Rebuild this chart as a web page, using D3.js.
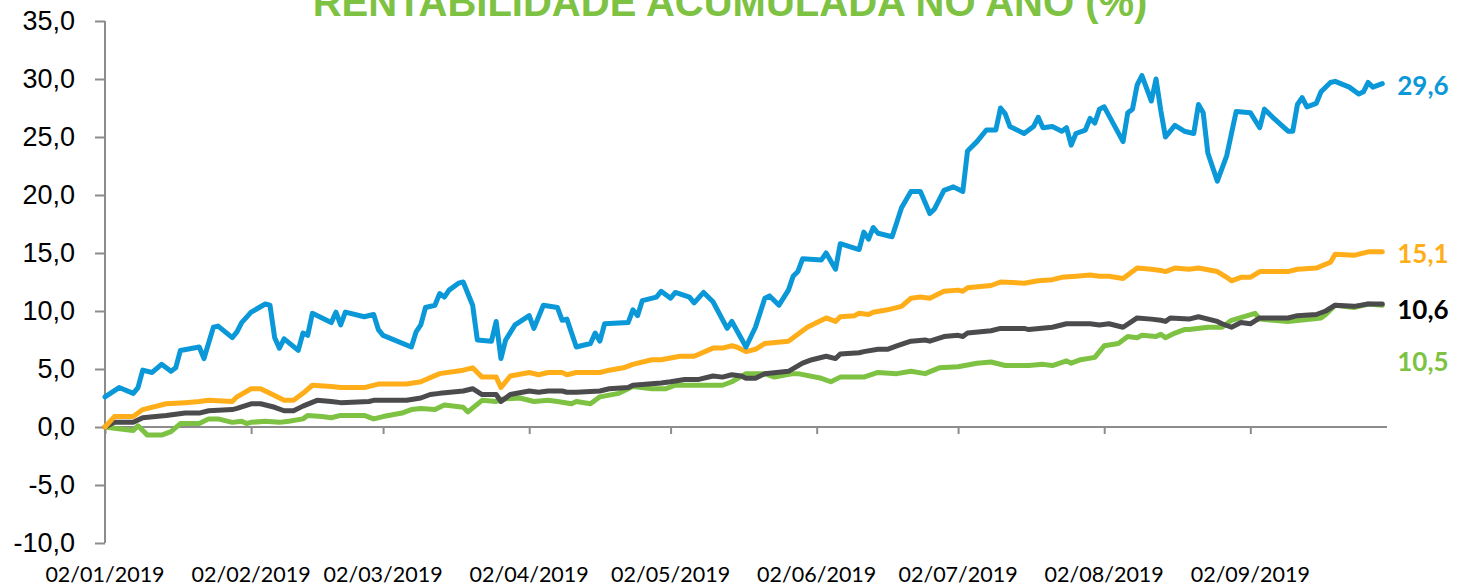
<!DOCTYPE html>
<html>
<head>
<meta charset="utf-8">
<script src="https://cdn.jsdelivr.net/npm/d3@7"></script>
<style>
  body { margin: 0; background: #fff; }
  svg { display: block; font-family: Lato, "Open Sans", sans-serif; }
  .axis path, .axis line { stroke: #8c8c8c; stroke-width: 2; }
  .axis text { fill: #000; }
</style>
</head>
<body>
<svg id="chart" width="1460" height="586"></svg>
<script>
// tick labels
var yTicks = [-10, -5, 0, 5, 10, 15, 20, 25, 30, 35];
var monthTicks = ["2019-01-02", "2019-02-02", "2019-03-02", "2019-04-02", "2019-05-02",
                  "2019-06-02", "2019-07-02", "2019-08-02", "2019-09-02"];

// series, [date, cumulative return %]
var blue = [
  ["2019-01-02", 2.6], ["2019-01-05", 3.4], ["2019-01-08", 2.9], ["2019-01-09", 3.4], ["2019-01-10", 4.9],
  ["2019-01-12", 4.7], ["2019-01-14", 5.4], ["2019-01-16", 4.8], ["2019-01-17", 5.1], ["2019-01-18", 6.6],
  ["2019-01-22", 6.9], ["2019-01-23", 5.9], ["2019-01-25", 8.6], ["2019-01-26", 8.7], ["2019-01-29", 7.7],
  ["2019-01-30", 8.2], ["2019-01-31", 9.0], ["2019-02-02", 9.9], ["2019-02-05", 10.6], ["2019-02-06", 10.5],
  ["2019-02-07", 7.7], ["2019-02-08", 6.8], ["2019-02-09", 7.6], ["2019-02-12", 6.6], ["2019-02-13", 8.1],
  ["2019-02-14", 7.9], ["2019-02-15", 9.8], ["2019-02-19", 9.0], ["2019-02-20", 9.9], ["2019-02-21", 8.8],
  ["2019-02-22", 9.9], ["2019-02-26", 9.5], ["2019-02-28", 9.7], ["2019-03-01", 8.4], ["2019-03-02", 7.9],
  ["2019-03-08", 6.9], ["2019-03-09", 8.2], ["2019-03-10", 8.8], ["2019-03-11", 10.3], ["2019-03-13", 10.5],
  ["2019-03-14", 11.5], ["2019-03-15", 11.2], ["2019-03-16", 11.8], ["2019-03-18", 12.4], ["2019-03-19", 12.5],
  ["2019-03-21", 10.5], ["2019-03-22", 7.5], ["2019-03-25", 7.4], ["2019-03-26", 9.1], ["2019-03-27", 5.9],
  ["2019-03-28", 7.5], ["2019-03-30", 8.8], ["2019-04-02", 9.6], ["2019-04-03", 8.5], ["2019-04-05", 10.5],
  ["2019-04-08", 10.3], ["2019-04-09", 9.2], ["2019-04-10", 9.3], ["2019-04-12", 6.9], ["2019-04-15", 7.2],
  ["2019-04-16", 8.1], ["2019-04-17", 7.4], ["2019-04-18", 8.9], ["2019-04-23", 9.0], ["2019-04-24", 10.1],
  ["2019-04-25", 9.6], ["2019-04-26", 10.9], ["2019-04-29", 11.2], ["2019-04-30", 11.7], ["2019-05-02", 11.1],
  ["2019-05-03", 11.6], ["2019-05-06", 11.2], ["2019-05-07", 10.7], ["2019-05-09", 11.6], ["2019-05-11", 10.8],
  ["2019-05-14", 8.5], ["2019-05-15", 9.1], ["2019-05-18", 6.9], ["2019-05-20", 8.6], ["2019-05-22", 11.1],
  ["2019-05-23", 11.3], ["2019-05-25", 10.5], ["2019-05-27", 11.8], ["2019-05-28", 13.0], ["2019-05-29", 13.4],
  ["2019-05-30", 14.5], ["2019-06-03", 14.4], ["2019-06-04", 15.0], ["2019-06-06", 13.6], ["2019-06-07", 15.8],
  ["2019-06-11", 15.3], ["2019-06-12", 16.8], ["2019-06-13", 16.2], ["2019-06-14", 17.2], ["2019-06-15", 16.7],
  ["2019-06-18", 16.4], ["2019-06-20", 18.9], ["2019-06-22", 20.3], ["2019-06-24", 20.3], ["2019-06-26", 18.4],
  ["2019-06-27", 18.8], ["2019-06-29", 20.4], ["2019-07-01", 20.7], ["2019-07-03", 20.3], ["2019-07-04", 23.8],
  ["2019-07-06", 24.6], ["2019-07-08", 25.6], ["2019-07-10", 25.6], ["2019-07-11", 27.5], ["2019-07-12", 27.0],
  ["2019-07-13", 25.9], ["2019-07-16", 25.3], ["2019-07-18", 25.9], ["2019-07-19", 26.7], ["2019-07-20", 25.8],
  ["2019-07-22", 25.9], ["2019-07-24", 25.5], ["2019-07-25", 25.8], ["2019-07-26", 24.3], ["2019-07-27", 25.3],
  ["2019-07-29", 25.6], ["2019-07-30", 26.6], ["2019-07-31", 26.2], ["2019-08-01", 27.4], ["2019-08-02", 27.6],
  ["2019-08-06", 24.6], ["2019-08-07", 27.1], ["2019-08-08", 27.4], ["2019-08-09", 29.5], ["2019-08-10", 30.3],
  ["2019-08-12", 28.1], ["2019-08-13", 30.0], ["2019-08-14", 27.3], ["2019-08-15", 25.0], ["2019-08-17", 26.0],
  ["2019-08-19", 25.5], ["2019-08-21", 25.3], ["2019-08-22", 27.8], ["2019-08-23", 27.1], ["2019-08-24", 23.6],
  ["2019-08-26", 21.2], ["2019-08-28", 23.4], ["2019-08-30", 27.2], ["2019-09-02", 27.1], ["2019-09-04", 25.8],
  ["2019-09-05", 27.4], ["2019-09-07", 26.6], ["2019-09-10", 25.5], ["2019-09-11", 25.5], ["2019-09-12", 27.8],
  ["2019-09-13", 28.4], ["2019-09-14", 27.6], ["2019-09-16", 27.9], ["2019-09-17", 28.9], ["2019-09-19", 29.7],
  ["2019-09-20", 29.8], ["2019-09-23", 29.3], ["2019-09-25", 28.7], ["2019-09-26", 28.9], ["2019-09-27", 29.7],
  ["2019-09-28", 29.3], ["2019-09-30", 29.6]
];

var orange = [
  ["2019-01-02", 0.0], ["2019-01-04", 0.9], ["2019-01-08", 0.9], ["2019-01-10", 1.5], ["2019-01-15", 2.0],
  ["2019-01-19", 2.1], ["2019-01-22", 2.2], ["2019-01-24", 2.3], ["2019-01-29", 2.2], ["2019-01-30", 2.6],
  ["2019-02-02", 3.3], ["2019-02-04", 3.3], ["2019-02-06", 2.9], ["2019-02-09", 2.3], ["2019-02-11", 2.3],
  ["2019-02-13", 2.9], ["2019-02-15", 3.6], ["2019-02-19", 3.5], ["2019-02-21", 3.4], ["2019-02-26", 3.4],
  ["2019-03-01", 3.7], ["2019-03-07", 3.7], ["2019-03-10", 3.9], ["2019-03-14", 4.6], ["2019-03-19", 4.9],
  ["2019-03-21", 5.1], ["2019-03-23", 4.3], ["2019-03-26", 4.3], ["2019-03-27", 3.4], ["2019-03-29", 4.4],
  ["2019-04-02", 4.7], ["2019-04-04", 4.5], ["2019-04-06", 4.7], ["2019-04-09", 4.7], ["2019-04-10", 4.5],
  ["2019-04-12", 4.7], ["2019-04-17", 4.7], ["2019-04-19", 4.9], ["2019-04-22", 5.1], ["2019-04-24", 5.4],
  ["2019-04-28", 5.8], ["2019-04-30", 5.8], ["2019-05-04", 6.1], ["2019-05-07", 6.1], ["2019-05-11", 6.8],
  ["2019-05-13", 6.8], ["2019-05-15", 7.0], ["2019-05-16", 6.9], ["2019-05-18", 6.5], ["2019-05-20", 6.7],
  ["2019-05-22", 7.2], ["2019-05-27", 7.4], ["2019-05-31", 8.6], ["2019-06-04", 9.4], ["2019-06-06", 9.1],
  ["2019-06-07", 9.5], ["2019-06-10", 9.6], ["2019-06-11", 9.8], ["2019-06-13", 9.7], ["2019-06-14", 9.9],
  ["2019-06-17", 10.1], ["2019-06-20", 10.4], ["2019-06-22", 11.1], ["2019-06-24", 11.2], ["2019-06-26", 11.1],
  ["2019-06-29", 11.7], ["2019-07-02", 11.8], ["2019-07-03", 11.7], ["2019-07-04", 12.0], ["2019-07-09", 12.2],
  ["2019-07-11", 12.5], ["2019-07-16", 12.4], ["2019-07-19", 12.6], ["2019-07-22", 12.7], ["2019-07-24", 12.9],
  ["2019-07-27", 13.0], ["2019-07-30", 13.1], ["2019-08-01", 13.0], ["2019-08-03", 13.0], ["2019-08-06", 12.8],
  ["2019-08-09", 13.7], ["2019-08-12", 13.6], ["2019-08-14", 13.5], ["2019-08-15", 13.4], ["2019-08-17", 13.7],
  ["2019-08-20", 13.6], ["2019-08-22", 13.7], ["2019-08-26", 13.4], ["2019-08-28", 12.9], ["2019-08-29", 12.6],
  ["2019-08-31", 12.9], ["2019-09-02", 12.9], ["2019-09-04", 13.4], ["2019-09-10", 13.4], ["2019-09-12", 13.6],
  ["2019-09-16", 13.7], ["2019-09-19", 14.2], ["2019-09-20", 14.9], ["2019-09-24", 14.8], ["2019-09-27", 15.1],
  ["2019-09-30", 15.1]
];

var dark = [
  ["2019-01-02", 0.0], ["2019-01-04", 0.4], ["2019-01-08", 0.4], ["2019-01-10", 0.8], ["2019-01-15", 1.0],
  ["2019-01-19", 1.2], ["2019-01-22", 1.2], ["2019-01-24", 1.4], ["2019-01-29", 1.5], ["2019-01-30", 1.6],
  ["2019-02-02", 2.0], ["2019-02-04", 2.0], ["2019-02-07", 1.7], ["2019-02-09", 1.4], ["2019-02-11", 1.4],
  ["2019-02-13", 1.8], ["2019-02-16", 2.3], ["2019-02-19", 2.2], ["2019-02-21", 2.1], ["2019-02-27", 2.2],
  ["2019-02-28", 2.3], ["2019-03-07", 2.3], ["2019-03-10", 2.5], ["2019-03-12", 2.8], ["2019-03-14", 2.9],
  ["2019-03-19", 3.1], ["2019-03-21", 3.3], ["2019-03-23", 2.8], ["2019-03-26", 2.8], ["2019-03-27", 2.2],
  ["2019-03-29", 2.8], ["2019-04-02", 3.1], ["2019-04-04", 3.0], ["2019-04-06", 3.1], ["2019-04-09", 3.1],
  ["2019-04-10", 3.0], ["2019-04-12", 3.0], ["2019-04-17", 3.1], ["2019-04-19", 3.3], ["2019-04-23", 3.4],
  ["2019-04-24", 3.6], ["2019-04-30", 3.8], ["2019-05-02", 3.9], ["2019-05-05", 4.1], ["2019-05-08", 4.1],
  ["2019-05-11", 4.4], ["2019-05-13", 4.3], ["2019-05-15", 4.5], ["2019-05-17", 4.4], ["2019-05-18", 4.2],
  ["2019-05-20", 4.2], ["2019-05-22", 4.6], ["2019-05-27", 4.8], ["2019-05-30", 5.5], ["2019-06-01", 5.8],
  ["2019-06-04", 6.1], ["2019-06-06", 5.9], ["2019-06-07", 6.3], ["2019-06-11", 6.4], ["2019-06-12", 6.5],
  ["2019-06-15", 6.7], ["2019-06-17", 6.7], ["2019-06-19", 7.0], ["2019-06-22", 7.4], ["2019-06-25", 7.5],
  ["2019-06-26", 7.4], ["2019-06-29", 7.8], ["2019-07-02", 7.9], ["2019-07-03", 7.8], ["2019-07-04", 8.1],
  ["2019-07-09", 8.3], ["2019-07-11", 8.5], ["2019-07-16", 8.5], ["2019-07-17", 8.4], ["2019-07-22", 8.6],
  ["2019-07-25", 8.9], ["2019-07-27", 8.9], ["2019-07-30", 8.9], ["2019-08-01", 8.8], ["2019-08-03", 8.9],
  ["2019-08-06", 8.6], ["2019-08-09", 9.4], ["2019-08-12", 9.3], ["2019-08-14", 9.2], ["2019-08-15", 9.1],
  ["2019-08-16", 9.4], ["2019-08-20", 9.3], ["2019-08-22", 9.5], ["2019-08-26", 9.1], ["2019-08-27", 8.9],
  ["2019-08-29", 8.6], ["2019-08-31", 9.0], ["2019-09-02", 8.9], ["2019-09-04", 9.4], ["2019-09-10", 9.4],
  ["2019-09-12", 9.6], ["2019-09-16", 9.7], ["2019-09-18", 10.0], ["2019-09-20", 10.5], ["2019-09-24", 10.4],
  ["2019-09-27", 10.6], ["2019-09-30", 10.6]
];

var green = [
  ["2019-01-02", 0.0], ["2019-01-04", -0.1], ["2019-01-08", -0.3], ["2019-01-09", 0.1], ["2019-01-11", -0.7],
  ["2019-01-14", -0.7], ["2019-01-16", -0.4], ["2019-01-18", 0.3], ["2019-01-22", 0.3], ["2019-01-24", 0.7],
  ["2019-01-26", 0.7], ["2019-01-29", 0.4], ["2019-01-31", 0.5], ["2019-02-01", 0.3], ["2019-02-02", 0.4],
  ["2019-02-05", 0.5], ["2019-02-08", 0.4], ["2019-02-10", 0.5], ["2019-02-13", 0.7], ["2019-02-14", 1.0],
  ["2019-02-17", 0.9], ["2019-02-19", 0.8], ["2019-02-21", 1.0], ["2019-02-26", 1.0], ["2019-02-28", 0.7],
  ["2019-03-02", 0.9], ["2019-03-06", 1.2], ["2019-03-08", 1.5], ["2019-03-10", 1.6], ["2019-03-13", 1.5],
  ["2019-03-15", 1.9], ["2019-03-19", 1.7], ["2019-03-20", 1.3], ["2019-03-23", 2.3], ["2019-03-26", 2.2],
  ["2019-03-27", 2.4], ["2019-03-31", 2.5], ["2019-04-03", 2.2], ["2019-04-06", 2.3], ["2019-04-08", 2.2],
  ["2019-04-11", 2.0], ["2019-04-12", 2.2], ["2019-04-15", 2.0], ["2019-04-17", 2.6], ["2019-04-21", 2.9],
  ["2019-04-24", 3.5], ["2019-04-28", 3.3], ["2019-05-01", 3.3], ["2019-05-03", 3.6], ["2019-05-07", 3.6],
  ["2019-05-13", 3.6], ["2019-05-15", 3.9], ["2019-05-18", 4.6], ["2019-05-22", 4.6], ["2019-05-24", 4.3],
  ["2019-05-28", 4.6], ["2019-05-29", 4.6], ["2019-06-03", 4.2], ["2019-06-05", 3.9], ["2019-06-07", 4.3],
  ["2019-06-12", 4.3], ["2019-06-15", 4.7], ["2019-06-19", 4.6], ["2019-06-22", 4.8], ["2019-06-25", 4.6],
  ["2019-06-28", 5.1], ["2019-07-02", 5.2], ["2019-07-06", 5.5], ["2019-07-09", 5.6], ["2019-07-12", 5.3],
  ["2019-07-17", 5.3], ["2019-07-20", 5.4], ["2019-07-22", 5.3], ["2019-07-25", 5.7], ["2019-07-26", 5.5],
  ["2019-07-28", 5.8], ["2019-07-31", 6.0], ["2019-08-02", 7.0], ["2019-08-05", 7.2], ["2019-08-07", 7.8],
  ["2019-08-09", 7.7], ["2019-08-10", 7.9], ["2019-08-13", 7.8], ["2019-08-14", 8.0], ["2019-08-15", 7.7],
  ["2019-08-17", 8.1], ["2019-08-19", 8.4], ["2019-08-20", 8.4], ["2019-08-24", 8.6], ["2019-08-27", 8.6],
  ["2019-08-29", 9.2], ["2019-09-03", 9.8], ["2019-09-04", 9.3], ["2019-09-10", 9.1], ["2019-09-17", 9.4],
  ["2019-09-18", 9.7], ["2019-09-20", 10.5], ["2019-09-24", 10.3], ["2019-09-27", 10.6], ["2019-09-30", 10.5]
];

var parseDate = d3.timeParse("%Y-%m-%d");
var ptBR = d3.formatLocale({ decimal: ",", thousands: ".", grouping: [3], currency: ["R$", ""], minus: "-" });
var fmt1 = ptBR.format(".1f");

// draw order: green at the bottom, blue on top
var series = [
  { data: green,  color: "#7dc242", labelColor: "#7dc242", labelDy: 66 },
  { data: dark,   color: "#4b4b4d", labelColor: "#000000", labelDy: 15 },
  { data: orange, color: "#ffae1a", labelColor: "#ffae1a", labelDy: 11 },
  { data: blue,   color: "#0a98d8", labelColor: "#0a98d8", labelDy: 11 }
];

var svg = d3.select("#chart");

var x = d3.scaleTime()
  .domain([parseDate("2019-01-02"), parseDate("2019-10-01")])
  .range([105, 1387]);
var y = d3.scaleLinear().domain([-10, 35]).range([543, 21]);

// title (its top is cut by the frame, as in the source)
svg.append("text")
  .attr("x", 730)
  .attr("y", 16)
  .attr("text-anchor", "middle")
  .style("font-family", "'Liberation Sans', Arial, sans-serif")
  .style("font-weight", "bold")
  .style("font-size", "40px")
  .style("fill", "#7dc242")
  .text("RENTABILIDADE ACUMULADA NO ANO (%)");

// y axis
var yAxis = d3.axisLeft(y).tickValues(yTicks).tickSize(10).tickPadding(20).tickFormat(fmt1);
svg.append("g")
  .attr("class", "axis")
  .attr("transform", "translate(105,0)")
  .call(yAxis)
  .call(function(g) { g.select(".domain").attr("d", "M0,21V543"); })
  .selectAll("text")
  .style("font-size", "27px");

// x axis along zero
var xAxis = d3.axisBottom(x)
  .tickValues(monthTicks.map(parseDate))
  .tickSize(7)
  .tickFormat("");
svg.append("g")
  .attr("class", "axis")
  .attr("transform", "translate(0," + y(0) + ")")
  .call(xAxis)
  .call(function(g) { g.select(".domain").attr("d", "M105,0H1387"); });

// date labels at the bottom
svg.append("g")
  .selectAll("text")
  .data(monthTicks.map(parseDate))
  .enter().append("text")
  .attr("x", function(d) { return x(d); })
  .attr("y", 582)
  .attr("text-anchor", "middle")
  .style("font-size", "21.5px")
  .style("fill", "#000")
  .text(d3.timeFormat("%d/%m/%Y"));

var line = d3.line()
  .x(function(d) { return x(parseDate(d[0])); })
  .y(function(d) { return y(d[1]); });

svg.append("g")
  .selectAll("path")
  .data(series)
  .enter().append("path")
  .attr("d", function(s) { return line(s.data); })
  .attr("fill", "none")
  .attr("stroke", function(s) { return s.color; })
  .attr("stroke-width", 5)
  .attr("stroke-linejoin", "round")
  .attr("stroke-linecap", "round");

// end value labels
svg.append("g")
  .selectAll("text")
  .data(series)
  .enter().append("text")
  .attr("x", function(s) { return x(parseDate(s.data[s.data.length - 1][0])) + 15; })
  .attr("y", function(s) { return y(s.data[s.data.length - 1][1]) + s.labelDy; })
  .style("font-size", "26px")
  .style("font-weight", "bold")
  .style("fill", function(s) { return s.labelColor; })
  .text(function(s) { return fmt1(s.data[s.data.length - 1][1]); });
</script>
</body>
</html>
